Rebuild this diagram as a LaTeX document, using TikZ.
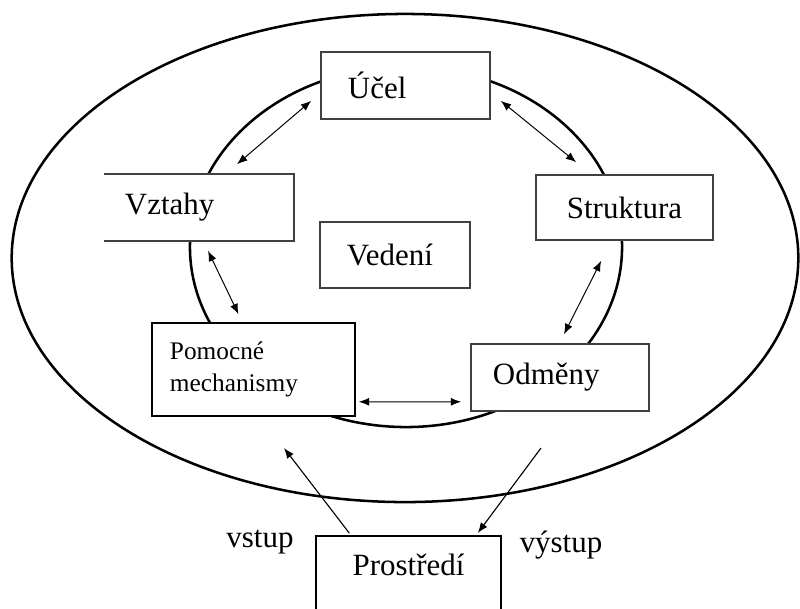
\documentclass[tikz,border=0pt]{standalone}
\usepackage{fontspec}
\setmainfont{Liberation Serif}
\usetikzlibrary{arrows.meta,calc}

\begin{document}
\begin{tikzpicture}[x=0.025cm, y=-0.025cm, font=\fontsize{22}{26}\selectfont,
  box/.style={draw=black!75, line width=1.1pt, fill=white, inner ysep=0pt},
  link/.style={<->, line width=0.7pt, >={Latex[length=2.6mm,width=2mm]}}]

\useasboundingbox (0,0) rectangle (800,608);
\clip (0,0) rectangle (800,608);

% Ellipses
\draw[line width=1.8pt] (405,258) ellipse [x radius=9.83cm, y radius=6.1cm];
\draw[line width=1.8pt] (406,247) ellipse [x radius=5.4cm, y radius=4.5cm];

% Boxes
\node[box, minimum height=1.675cm, inner xsep=0.675cm, text width=2.875cm, align=left] (ucel) at (405.5,85.5) {Účel};
\node[box, draw=none, minimum height=1.625cm, inner xsep=0.5cm, text width=3.7cm, align=left] (vztahy) at (199,207.5) {Vztahy};
\draw[black!75, line width=1.1pt] (vztahy.north west) -- (vztahy.north east) -- (vztahy.south east) -- (vztahy.south west);
\node[box, minimum width=4.425cm, minimum height=1.625cm] (struktura) at (624.5,207.5) {Struktura};
\node[box, minimum height=1.65cm, inner xsep=0.675cm, text width=2.4cm, align=left] (vedeni) at (395,255) {Vedení};
\node[box, draw=black, minimum height=2.325cm, inner xsep=0.45cm, text width=4.175cm, align=left, font=\fontsize{18}{22.7}\selectfont] (pomocne) at (253.5,369.5) {Pomocné\\mechanismy};
\node[box, minimum height=1.675cm, inner xsep=0.55cm, text width=3.35cm, align=left] (odmeny) at (560,377.5) {Odměny};
\node[box, draw=black, anchor=north, minimum width=4.625cm, text height=1cm, text depth=1.25cm] (prostredi) at (408.5,535) {Prostředí};

% Labels
\node (vstup) at (260,542) {vstup};
\node (vystup) at (561,545) {výstup};
\coordinate (vstupend) at (284,448);
\coordinate (vystupstart) at (541,448);

% Arrows
\draw[link] ($(ucel.south west)+(-9,-19)$) -- ($(vztahy.north)+(38,-10)$);
\draw[link] ($(ucel.south east)+(10,-19)$) -- ($(struktura.north west)+(41,-12)$);
\draw[link] ($(struktura.south west)+(66,20)$) -- ($(odmeny.north)+(4,-9)$);
\draw[link] ($(vztahy.south)+(9,10)$) -- ($(pomocne.north)+(-15,-8)$);
\draw[link] ($(pomocne.south east)+(3,-15)$) -- ($(odmeny.south west)+(-9,-10)$);
\draw[link, <-, line width=0.8pt] (vstupend) -- ($(prostredi.north west)+(34,-2)$);
\draw[link, ->, line width=0.8pt] (vystupstart) -- ($(prostredi.north east)+(-24,-2)$);

\end{tikzpicture}
\end{document}
